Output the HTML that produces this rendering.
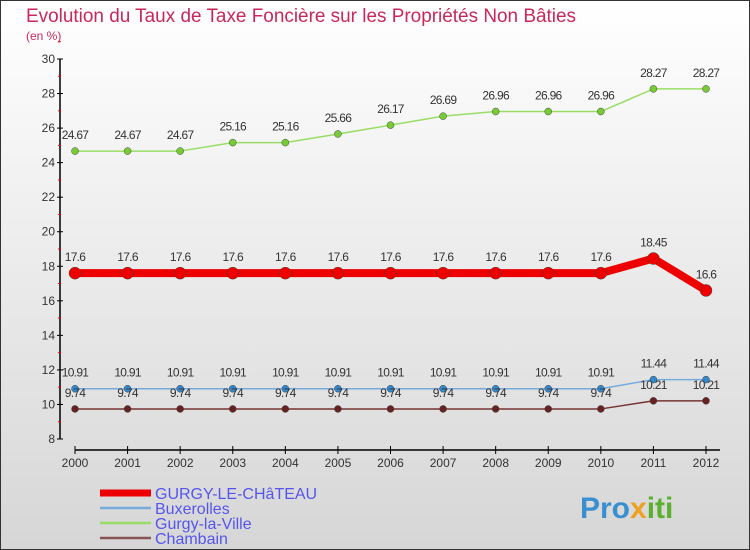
<!DOCTYPE html>
<html><head><meta charset="utf-8"><style>
body{margin:0;width:750px;height:550px;overflow:hidden}
svg{display:block;font-family:"Liberation Sans",sans-serif}
</style></head><body>
<svg id="chart" width="750" height="550" viewBox="0 0 750 550">
<defs><linearGradient id="bg" x1="0" y1="0" x2="0" y2="1"><stop offset="0" stop-color="#ffffff"/><stop offset="1" stop-color="#d6d6d6"/></linearGradient></defs>
<rect x="0.5" y="0.5" width="749" height="549" fill="url(#bg)" stroke="#333"/>
<text x="26" y="22" font-size="19" fill="#c8285a" textLength="550" lengthAdjust="spacingAndGlyphs">Evolution du Taux de Taxe Foncière sur les Propriétés Non Bâties</text>
<text x="26" y="40" font-size="12" fill="#c8285a">(en %)</text>
<g id="axes"></g><g id="series"></g><g id="legend"></g>
<text x="580" y="518" font-size="30" font-weight="bold" fill="#3a8fd0">Pro<tspan fill="#f0a020">x</tspan><tspan fill="#5cb030">iti</tspan></text>
</svg>
<script>
const years=[2000,2001,2002,2003,2004,2005,2006,2007,2008,2009,2010,2011,2012];
const yTicks=[8,10,12,14,16,18,20,22,24,26,28,30];
const gurgyChateau=[17.6,17.6,17.6,17.6,17.6,17.6,17.6,17.6,17.6,17.6,17.6,18.45,16.6];
const buxerolles=[10.91,10.91,10.91,10.91,10.91,10.91,10.91,10.91,10.91,10.91,10.91,11.44,11.44];
const gurgyVille=[24.67,24.67,24.67,25.16,25.16,25.66,26.17,26.69,26.96,26.96,26.96,28.27,28.27];
const chambain=[9.74,9.74,9.74,9.74,9.74,9.74,9.74,9.74,9.74,9.74,9.74,10.21,10.21];
const names=["GURGY-LE-CHâTEAU","Buxerolles","Gurgy-la-Ville","Chambain"];
const NS="http://www.w3.org/2000/svg";
function x(i){return 75+i*(706-75)/(years.length-1);}
function y(v){return 439-(v-8)*(380/22);}
function mk(tag,attrs,parent,text){const e=document.createElementNS(NS,tag);for(const k in attrs)e.setAttribute(k,attrs[k]);if(text!==undefined)e.textContent=text;parent.appendChild(e);return e;}
const axes=document.getElementById('axes');
let e=mk('line',{x1:60,y1:y(30),x2:60,y2:y(8),stroke:'#000','stroke-width':1.5},axes);


yTicks.forEach(t=>{
 let l=mk('line',{x1:57,y1:y(t),x2:63,y2:y(t),stroke:'#000'},axes);
 
 
 let m=mk('line',{x1:58,y1:y(t+1),x2:61,y2:y(t+1),stroke:'#e00'},axes);
 
 
 let tx=mk('text',{x:55,y:y(t)+4,'font-size':12,fill:'#333','text-anchor':'end'},axes,String(t));
 
 
});
e=mk('line',{x1:75,y1:450,x2:720,y2:450,stroke:'#000','stroke-width':1.5},axes);


years.forEach((yr,i)=>{
 let l=mk('line',{x1:x(i),y1:446,x2:x(i),y2:454,stroke:'#000'},axes);
 
 
 let tx=mk('text',{x:x(i),y:467,'font-size':12,fill:'#333','text-anchor':'middle'},axes,String(yr));
 
 
});
const ser=document.getElementById('series');
const defs=[
 {d:gurgyVille,c:'#99dd66',pc:'#77cc33',w:1.5,r:3.5,n:'gurgy-la-ville'},
 {d:buxerolles,c:'#77aadd',pc:'#3388cc',w:1.5,r:3.5,n:'buxerolles'},
 {d:chambain,c:'#773333',pc:'#662222',w:1.5,r:3.5,n:'chambain'},
 {d:gurgyChateau,c:'#ee0000',pc:'#ee0000',w:8,r:6,n:'gurgy-le-chateau'}];
defs.forEach(s=>{
 const g=mk('g',{},ser);
 
 
 const p=mk('polyline',{points:s.d.map((v,i)=>x(i)+','+y(v)).join(' '),fill:'none',stroke:s.c,'stroke-width':s.w,'stroke-linejoin':'round'},g);
 
 
 s.d.forEach((v,i)=>{
  const c=mk('circle',{cx:x(i),cy:y(v),r:s.r,fill:s.pc,stroke:'#444','stroke-width':0.5},g);
  
  
  const t=mk('text',{x:x(i),y:y(v)-12,'font-size':12,fill:'#333','text-anchor':'middle','letter-spacing':'-0.7'},g,String(v));
  
  
 });
});
const leg=document.getElementById('legend');
const lc=['#ee0000','#77aadd','#99dd66','#885555'],lw=[7,2.5,2.5,2.5];
names.forEach((n,i)=>{
 const yy=493+i*15;
 const g=mk('g',{},leg);
 
 
 const l=mk('line',{x1:100,y1:yy,x2:151,y2:yy,stroke:lc[i],'stroke-width':lw[i]},g);
 
 
 const t=mk('text',{x:155,y:yy+6,'font-size':16,fill:'#5555ee'},g,n);
 
 
});
</script>
</body></html>
